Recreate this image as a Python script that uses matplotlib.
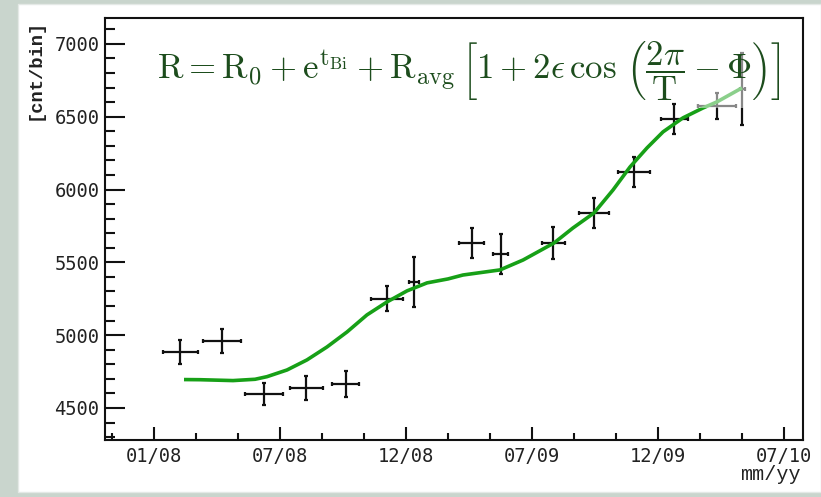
"""Rate versus time with periodic-modulation fit."""

import matplotlib
matplotlib.use("Agg")
import matplotlib.pyplot as plt
from matplotlib.patches import Rectangle
from matplotlib.ticker import FixedLocator, MultipleLocator

# ---------------------------------------------------------------------------
# Data
# ---------------------------------------------------------------------------

month_labels = ["01/08", "07/08", "12/08", "07/09", "12/09", "07/10"]
month_pos = [0, 1, 2, 3, 4, 5]

# measured rate per bin (x in label-tick units)
bin_x = [0.21, 0.54, 0.87, 1.21, 1.52, 1.85, 2.06, 2.52, 2.75, 3.17,
         3.49, 3.81, 4.13, 4.47, 4.67]
bin_xerr = [0.14, 0.15, 0.15, 0.13, 0.11, 0.13, 0.04, 0.10, 0.06, 0.09,
            0.12, 0.13, 0.11, 0.15, 0.02]
rate = [4885, 4960, 4596, 4637, 4665, 5249, 5365, 5633, 5558, 5633,
        5839, 6121, 6485, 6574, 6691]
rate_err = [80, 82, 75, 82, 90, 86, 172, 103, 137, 110,
            100, 103, 103, 89, 247]

# fitted curve, sampled
fit_x = [0.238, 0.365, 0.627, 0.802, 0.897, 1.056, 1.214, 1.373, 1.532,
         1.690, 1.849, 2.008, 2.167, 2.333, 2.452, 2.746, 2.929, 3.175,
         3.325, 3.492, 3.643, 3.778, 3.913, 4.040, 4.198, 4.357, 4.468,
         4.667]
fit_y = [4695, 4694, 4688, 4697, 4715, 4761, 4830, 4919, 5022,
         5139, 5228, 5304, 5359, 5386, 5413, 5448, 5516, 5633,
         5736, 5839, 5997, 6155, 6286, 6396, 6492, 6560, 6602,
         6698]

FORMULA = (r"$\mathrm{R} = \mathrm{R}_0 + \mathrm{e}^{\mathrm{t}_{\mathrm{Bi}}}"
           r" + \mathrm{R}_{\mathrm{avg}}\,\left[1 + 2\epsilon\,\cos\,"
           r"\left(\dfrac{2\pi}{\mathrm{T}} - \Phi\right)\right]$")

# ---------------------------------------------------------------------------
# Figure
# ---------------------------------------------------------------------------

plt.rcParams["mathtext.fontset"] = "cm"

fig = plt.figure(figsize=(8.21, 4.97), dpi=100)
fig.patch.set_facecolor("#c9d5cd")
fig.patches.append(Rectangle((0.022, 0.010), 0.978, 0.982,
                             transform=fig.transFigure, facecolor="white",
                             edgecolor="#e4e9e6", linewidth=1.0, zorder=-10))

ax = fig.add_axes([0.1279, 0.1147, 0.8502, 0.8491])
ax.set_facecolor("white")

ax.errorbar(bin_x, rate, xerr=bin_xerr, yerr=rate_err, fmt="none",
            ecolor="#111111", elinewidth=1.6, capsize=1.2, capthick=1.6,
            zorder=3)
ax.plot(fit_x, fit_y, color="#17a017", linewidth=2.6,
        solid_capstyle="butt", solid_joinstyle="round", zorder=4)

ax.set_xlim(-0.389, 5.151)
ax.set_ylim(4280, 7178)

# light wash behind the right end of the formula
ax.add_patch(Rectangle((4.31, 6560), 0.58, 560, facecolor="white",
                       edgecolor="none", alpha=0.5, zorder=5))

ax.text(0.0745, 0.875, FORMULA, transform=ax.transAxes, fontsize=25,
        color="#1d4d1d", ha="left", va="center", zorder=6)

# axis cosmetics
for side in ("top", "right", "left", "bottom"):
    ax.spines[side].set_linewidth(1.5)
    ax.spines[side].set_color("#111111")

ax.xaxis.set_major_locator(FixedLocator(month_pos))
ax.xaxis.set_minor_locator(MultipleLocator(1 / 3))
ax.set_xticklabels(month_labels)
ax.yaxis.set_major_locator(MultipleLocator(500))
ax.yaxis.set_minor_locator(MultipleLocator(100))

ax.tick_params(axis="x", which="major", direction="in", length=9.5,
               width=1.5, pad=5, labelsize=13.5, top=False, color="#111111")
ax.tick_params(axis="x", which="minor", direction="in", length=5,
               width=1.5, top=False, color="#111111")
ax.tick_params(axis="y", which="major", direction="in", length=14.5,
               width=1.5, pad=4, labelsize=13.5, right=False, color="#111111")
ax.tick_params(axis="y", which="minor", direction="in", length=7.5,
               width=1.5, right=False, color="#111111")
for lab in ax.get_xticklabels() + ax.get_yticklabels():
    lab.set_family("DejaVu Sans Mono")
    lab.set_color("#222222")

fig.text(35 / 821, 1 - 19 / 497, "[cnt/bin]", rotation=90, ha="center",
         va="top", fontsize=13.5, family="Liberation Mono", fontweight="bold",
         color="#222222")
fig.text(801 / 821, 1 - 465 / 497, "mm/yy", ha="right", va="top",
         fontsize=14.5, family="Liberation Mono", color="#222222")

fig.savefig("out.png", dpi=100, facecolor=fig.get_facecolor())
